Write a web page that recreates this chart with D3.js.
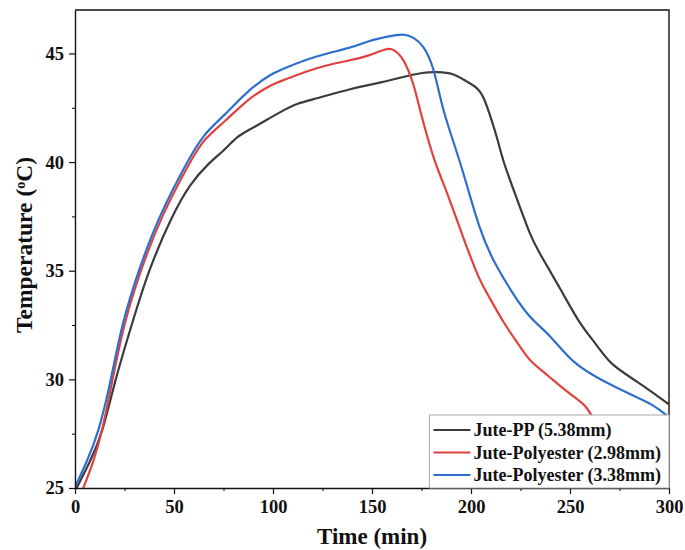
<!DOCTYPE html>
<html>
<head>
<meta charset="utf-8">
<script src="https://cdn.jsdelivr.net/npm/d3@7"></script>
<style>
  body { margin: 0; background: #fff; }
  svg { display: block; }
  text { font-family: "Liberation Serif", "Times New Roman", serif; font-weight: bold; }
</style>
</head>
<body>
<svg id="chart" width="685" height="550"></svg>
<script>
    'use strict';

    // series: [time (min), temperature (°C)]
    var jutePP = [[0.8, 25.0], [7.6, 26.2], [13.8, 27.5], [20.3, 30.0], [28.6, 32.5], [37, 35.0],
        [48.8, 37.5], [58, 39.0], [68, 40.0], [75, 40.5], [82, 41.2], [88.4, 41.5], [95, 41.85],
        [105.2, 42.38], [112, 42.7], [122, 42.92], [139, 43.38], [155.7, 43.68], [165, 43.9],
        [175.9, 44.14], [183, 44.15], [191, 44.1], [197.8, 43.7], [202.9, 43.45], [206.2, 43.07],
        [210.4, 41.95], [213.8, 40.93], [216.3, 40.0], [223.1, 38.33], [229.8, 36.65], [234, 35.89],
        [245, 34.2], [255, 32.52], [263.5, 31.6], [270.2, 30.69], [283.7, 29.92], [298.8, 28.93],
        [300, 28.85]];

    var polyester298 = [[4.2, 25.0], [9.3, 26.2], [13.5, 27.5], [19, 30.0], [24.5, 32.5], [33, 35.0],
        [43.5, 37.5], [58, 40.0], [65, 41.07], [75, 41.8], [88.4, 43.0], [100, 43.6], [105.2, 43.76],
        [122, 44.37], [139, 44.68], [149, 44.9], [157.4, 45.25], [161, 45.2], [165.8, 44.8],
        [170.9, 43.68], [174.2, 42.4], [177.5, 41.3], [182, 39.9], [188, 38.6], [196.1, 36.5],
        [204.5, 34.5], [208, 34.0], [216.3, 32.6], [226.4, 31.3], [229.8, 30.84], [238.2, 30.23],
        [250, 29.31], [257.6, 28.85], [261, 28.32], [264, 27.9]];

    var polyester338 = [[0.3, 25.1], [5.9, 26.2], [11.8, 27.5], [18.3, 30.0], [23.5, 32.5], [32, 35.0],
        [42.3, 37.5], [56.5, 40.0], [65, 41.3], [75, 42.1], [88.4, 43.4], [100, 44.1], [105.2, 44.3],
        [122, 44.9], [139, 45.24], [149, 45.6], [158, 45.78], [165.8, 45.92], [171, 45.75],
        [176, 45.37], [181, 44.45], [185.2, 42.6], [189.4, 41.4], [196.1, 39.56], [204.5, 36.8],
        [212, 35.3], [221.4, 33.9], [229.8, 32.8], [239.9, 32.06], [251.7, 30.69], [266.8, 29.92],
        [280.3, 29.31], [292.1, 28.85], [300, 28.25]];

    var seriesNames = ['Jute-PP (5.38mm)', 'Jute-Polyester (2.98mm)', 'Jute-Polyester (3.38mm)'];
    var seriesColors = ['#3c3c3c', '#e0433e', '#2c6fcf'];
    var xTicks = [0, 50, 100, 150, 200, 250, 300];
    var yTicks = [25, 30, 35, 40, 45];

    var margin = { top: 10, right: 16, bottom: 62, left: 75 };
    var width = 685 - margin.left - margin.right;
    var height = 550 - margin.top - margin.bottom;

    var x = d3.scaleLinear().domain([0, 300]).range([0, width]);
    var y = d3.scaleLinear().domain([25, 47]).range([height, 0]);

    var svg = d3.select('#chart')
        .append('g')
        .attr('transform', 'translate(' + margin.left + ',' + margin.top + ')');

    svg.append('clipPath').attr('id', 'plot-clip')
        .append('rect').attr('width', width).attr('height', height);

    var line = d3.line()
        .x(function (d) { return x(d[0]); })
        .y(function (d) { return y(d[1]); })
        .curve(d3.curveBasis);

    var allSeries = [jutePP, polyester298, polyester338];

    svg.append('g')
        .attr('clip-path', 'url(#plot-clip)')
        .selectAll('path')
        .data(allSeries)
        .enter().append('path')
        .attr('d', line)
        .attr('fill', 'none')
        .attr('stroke-width', 2.2)
        .attr('stroke', function (d, i) { return seriesColors[i]; });

    // minor ticks
    svg.append('g')
        .attr('transform', 'translate(0,' + height + ')')
        .call(d3.axisBottom(x).tickValues(d3.range(25, 300, 50)).tickSize(3).tickFormat(''))
        .call(function (g) { g.select('.domain').remove(); });
    svg.append('g')
        .call(d3.axisLeft(y).tickValues(d3.range(27.5, 47, 5)).tickSize(3).tickFormat(''))
        .call(function (g) { g.select('.domain').remove(); });

    var xAxis = svg.append('g')
        .attr('transform', 'translate(0,' + height + ')')
        .call(d3.axisBottom(x).tickValues(xTicks).tickSize(6).tickSizeOuter(0).tickPadding(6));
    var yAxis = svg.append('g')
        .call(d3.axisLeft(y).tickValues(yTicks).tickSize(6).tickSizeOuter(0).tickPadding(5));

    [xAxis, yAxis].forEach(function (g) {
        g.selectAll('text')
            .attr('font-family', '"Liberation Serif", serif')
            .attr('font-weight', 'bold')
            .attr('font-size', 18.5)
            .attr('fill', '#111');
        g.selectAll('line').attr('stroke', '#111').attr('stroke-width', 1.2);
        g.select('.domain').attr('stroke', '#111').attr('stroke-width', 1.4);
    });

    // frame top and right
    svg.append('path')
        .attr('d', 'M0,0H' + width + 'V' + height)
        .attr('fill', 'none')
        .attr('stroke', '#111')
        .attr('stroke-width', 1.4);

    svg.append('text')
        .attr('x', width / 2)
        .attr('y', height + 56)
        .attr('text-anchor', 'middle')
        .attr('font-size', 23)
        .attr('fill', '#111')
        .text('Time (min)');

    var yTitle = svg.append('text')
        .attr('transform', 'translate(' + (-43) + ',' + (height / 2 - 4) + ') rotate(-90)')
        .attr('text-anchor', 'middle')
        .attr('font-size', 23.5)
        .attr('fill', '#111');
    yTitle.append('tspan').text('Temperature (');
    yTitle.append('tspan').attr('baseline-shift', 'super').attr('font-size', 14).text('o');
    yTitle.append('tspan').text('C)');

    // legend
    var legendX = x(179);
    var legendW = width - legendX;
    var legend = svg.append('g').attr('transform', 'translate(' + legendX + ',' + (height - 73) + ')');
    legend.append('rect')
        .attr('width', legendW)
        .attr('height', 73)
        .attr('fill', '#fff')
        .attr('stroke', '#aaa')
        .attr('stroke-width', 1);
    var items = legend.selectAll('.item')
        .data(seriesNames)
        .enter().append('g')
        .attr('class', 'item')
        .attr('transform', function (d, i) { return 'translate(0,' + (15 + i * 22.5) + ')'; });
    items.append('line')
        .attr('x1', 4).attr('x2', 41)
        .attr('stroke-width', 2.2)
        .attr('stroke', function (d, i) { return seriesColors[i]; });
    items.append('text')
        .attr('x', 44)
        .attr('dy', '0.35em')
        .attr('font-size', 18)
        .attr('fill', '#111')
        .text(function (d) { return d; });
</script>
</body>
</html>
